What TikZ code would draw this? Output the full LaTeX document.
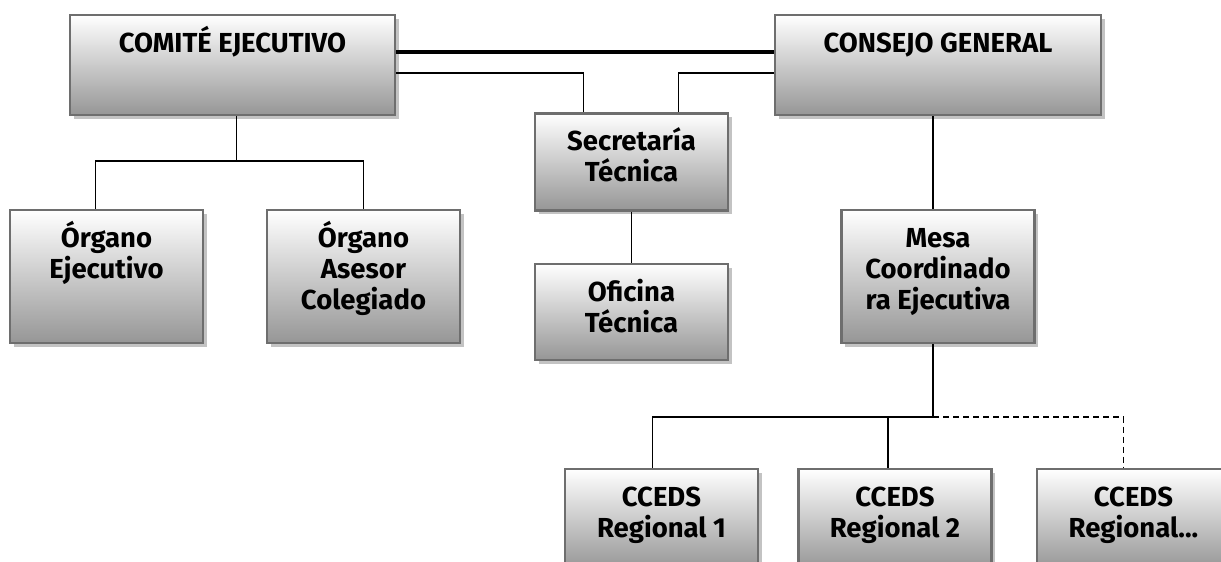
\documentclass[tikz,border=0pt]{standalone}
\usepackage{fontspec}
\setmainfont{Fira Sans}
\usetikzlibrary{shadows}

\definecolor{boxline}{RGB}{110,110,110}
\definecolor{boxbottom}{RGB}{150,150,150}
\definecolor{boxshadow}{RGB}{195,195,195}

% text of a box: width, height, lines
\newcommand{\orgtext}[3]{\parbox[c][#2][t]{#1}{\centering\rule{0pt}{37pt}#3}}

\begin{document}
\begin{tikzpicture}[x=1pt,y=-1pt]
  \tikzset{orgbox/.style={draw=boxline,line width=2.2pt,inner sep=0pt,
      top color=white,middle color=black!9,bottom color=boxbottom,
      drop shadow={shadow xshift=3.5pt,shadow yshift=-3.5pt,fill=boxshadow,opacity=1},
      font=\fontsize{27.5}{31}\selectfont\bfseries},
    link/.style={line width=1.5pt},
    boldlink/.style={line width=3.5pt}}
  \useasboundingbox (0,0) rectangle (1221,562);
  \clip (0,0) rectangle (1221,562);

  % top level
  \node[orgbox] (ce) at (232.5,65) {\orgtext{325pt}{100pt}{COMITÉ EJECUTIVO}};
  \node[orgbox] (cg) at (938,65) {\orgtext{326pt}{100pt}{CONSEJO GENERAL}};
  \node[orgbox] (st) at (631.5,162) {\orgtext{193pt}{97pt}{Secretaría\\Técnica}};
  \node[orgbox] (ot) at (631.5,312) {\orgtext{193pt}{96pt}{Oficina\\Técnica}};

  % second level
  \node[orgbox] (oe) at (106.5,276.5) {\orgtext{193pt}{133pt}{Órgano\\Ejecutivo}};
  \node[orgbox] (oa) at (363.5,276.5) {\orgtext{193pt}{133pt}{Órgano\\Asesor\\Colegiado}};
  \node[orgbox] (mc) at (938,276.5) {\orgtext{193pt}{133pt}{Mesa\\Coordinado\\ra Ejecutiva}};

  % regional
  \node[orgbox] (r1) at (661.5,519) {\orgtext{193pt}{100pt}{CCEDS\\Regional 1}};
  \node[orgbox] (r2) at (895,519) {\orgtext{193pt}{100pt}{CCEDS\\Regional 2}};
  \node[orgbox] (r3) at (1133.5,519) {\orgtext{193pt}{100pt}{CCEDS\\Regional...}};

  % connectors
  \draw[boldlink] ([yshift=13pt]ce.east) -- ([yshift=13pt]cg.west);
  \draw[link] ([yshift=-8pt]ce.east) -| ([xshift=-48pt]st.north);
  \draw[link] ([yshift=-8pt]cg.west) -| ([xshift=47pt]st.north);
  \draw[link] (st) -- (ot);

  \draw[link] ([xshift=4pt]ce.south) -- ++(0,45) coordinate (ce-j);
  \draw[link] ([xshift=-11pt]oe.north) |- (ce-j) -| (oa.north);

  \draw[link] ([xshift=-5pt]cg.south) -- ([xshift=-5pt]mc.north);
  \draw[link] ([xshift=-5pt]mc.south) -- ++(0,73) coordinate (mc-j);
  \draw[link] ([xshift=-9pt]r1.north) |- (mc-j);
  \draw[link] ([xshift=-7pt]r2.north) -- ([xshift=-7pt]r2.north |- mc-j);
  \draw[link,dash pattern=on 6pt off 4pt] (mc-j) -| ([xshift=-10pt]r3.north);
\end{tikzpicture}
\end{document}
